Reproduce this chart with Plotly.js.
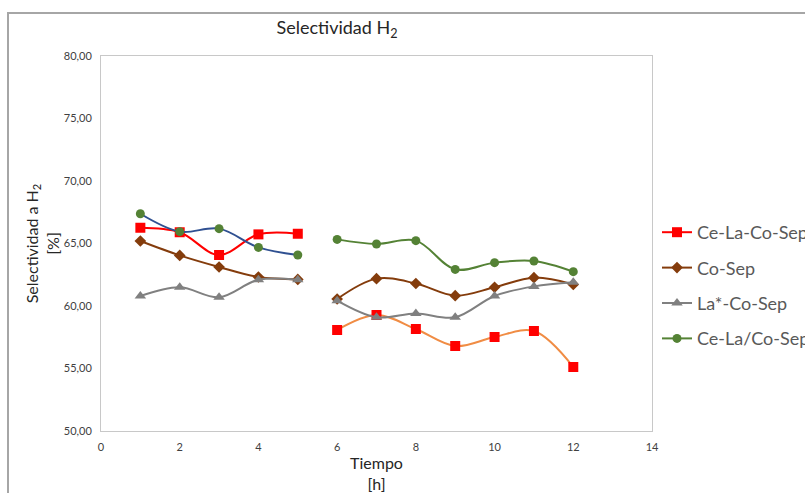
<!DOCTYPE html>
<html>
<head>
<meta charset="utf-8">
<script src="https://cdn.plot.ly/plotly-3.0.1.min.js"></script>
<style>html,body{margin:0;padding:0;background:#fff;}#chart{width:805px;height:493px;}</style>
</head>
<body>
<div id="chart"></div>
<script>
// Time in hours: first run (1-5 h) and second run (6-12 h)
const time1 = [1, 2, 3, 4, 5];
const time2 = [6, 7, 8, 9, 10, 11, 12];

// H2 selectivity [%]
const ceLaCoSep1 = [66.26, 65.90, 64.08, 65.73, 65.78];
const ceLaCoSep2 = [58.08, 59.28, 58.16, 56.80, 57.52, 58.00, 55.12];
const coSep1 = [65.20, 64.05, 63.12, 62.32, 62.13];
const coSep2 = [60.56, 62.19, 61.80, 60.83, 61.50, 62.27, 61.73];
const laCoSep1 = [60.80, 61.50, 60.70, 62.10, 62.10];
const laCoSep2 = [60.43, 59.10, 59.40, 59.10, 60.80, 61.57, 61.90];
const ceLaSlashCoSep1 = [67.38, 65.95, 66.19, 64.69, 64.08];
const ceLaSlashCoSep2 = [65.33, 64.96, 65.23, 62.93, 63.47, 63.60, 62.75];

const seriesNames = ['Ce-La-Co-Sep', 'Co-Sep', 'La*-Co-Sep', 'Ce-La/Co-Sep'];
const xTicks = [0, 2, 4, 6, 8, 10, 12, 14];
const yTicks = [50, 55, 60, 65, 70, 75, 80];

const FONT = 'Lato, "Open Sans", sans-serif';

function tr(x, y, name, lineColor, marker, showlegend) {
  return {
    x: x, y: y, name: name, legendgroup: name, showlegend: showlegend,
    type: 'scatter', mode: 'lines+markers',
    line: {color: lineColor, width: 2, shape: 'spline', smoothing: 1},
    marker: marker, hoverinfo: 'skip'
  };
}
const mRed = {symbol: 'square', size: 10, color: '#FF0000'};
const mBrown = {symbol: 'diamond', size: 9, color: '#843C0C'};
const mGray = {symbol: 'triangle-up', size: 10, color: '#808080'};
const mGreen = {symbol: 'circle', size: 9, color: '#548235'};

const data = [
  tr(time1, ceLaCoSep1, seriesNames[0], '#FF0000', mRed, true),
  tr(time1, coSep1, seriesNames[1], '#843C0C', mBrown, true),
  tr(time1, laCoSep1, seriesNames[2], '#808080', mGray, true),
  tr(time2, ceLaSlashCoSep2, seriesNames[3], '#548235', mGreen, true),
  tr(time1, ceLaSlashCoSep1, seriesNames[3], '#2F5091', mGreen, false),
  tr(time2, ceLaCoSep2, seriesNames[0], '#F08C44', mRed, false),
  tr(time2, coSep2, seriesNames[1], '#843C0C', mBrown, false),
  tr(time2, laCoSep2, seriesNames[2], '#808080', mGray, false)
];

const layout = {
  width: 805, height: 493,
  margin: {l: 101, r: 153, t: 56, b: 62, autoexpand: false},
  paper_bgcolor: '#ffffff', plot_bgcolor: '#ffffff',
  separators: ', ',
  font: {family: FONT, color: '#404040'},
  showlegend: true,
  title: {text: 'Selectividad H<sub>2</sub>', font: {family: FONT, size: 18, color: '#262626'},
          x: 337 / 805, xanchor: 'center', y: 1 - 28 / 493, yanchor: 'middle'},
  xaxis: {
    range: [0, 14], tickvals: xTicks, ticktext: xTicks.map(String),
    showgrid: false, zeroline: false, showline: true, mirror: true,
    linecolor: '#c8c8c8', linewidth: 1, ticks: '', ticklabelstandoff: 6,
    tickfont: {family: FONT, size: 11, color: '#404040'},
    title: {text: 'Tiempo<br>[h]', font: {family: FONT, size: 16, color: '#262626'}, standoff: 15},
    automargin: false
  },
  yaxis: {
    range: [50, 80], tickvals: yTicks, tickformat: '.2f',
    showgrid: false, zeroline: false, showline: true, mirror: true,
    linecolor: '#c8c8c8', linewidth: 1, ticks: '', ticklabelstandoff: 6,
    tickfont: {family: FONT, size: 11, color: '#404040'},
    title: {text: 'Selectividad a H<sub>2</sub><br>[%]', font: {family: FONT, size: 16, color: '#262626'}, standoff: 0},
    automargin: false
  },
  legend: {
    xref: 'container', yref: 'container', x: 657 / 805, xanchor: 'left',
    y: 1 - 214 / 493, yanchor: 'top', traceorder: 'grouped', tracegroupgap: 9,
    font: {family: FONT, size: 18, color: '#595959'}, bgcolor: 'rgba(0,0,0,0)'
  },
  shapes: [{
    type: 'rect', xref: 'paper', yref: 'paper', layer: 'below',
    x0: (8 - 101) / 551, x1: 1.6, y0: -0.5, y1: (431 - 13) / 375,
    line: {color: '#a6a6a6', width: 2}, fillcolor: 'rgba(0,0,0,0)'
  }]
};

Plotly.newPlot('chart', data, layout, {staticPlot: true, displayModeBar: false});
</script>
</body>
</html>
